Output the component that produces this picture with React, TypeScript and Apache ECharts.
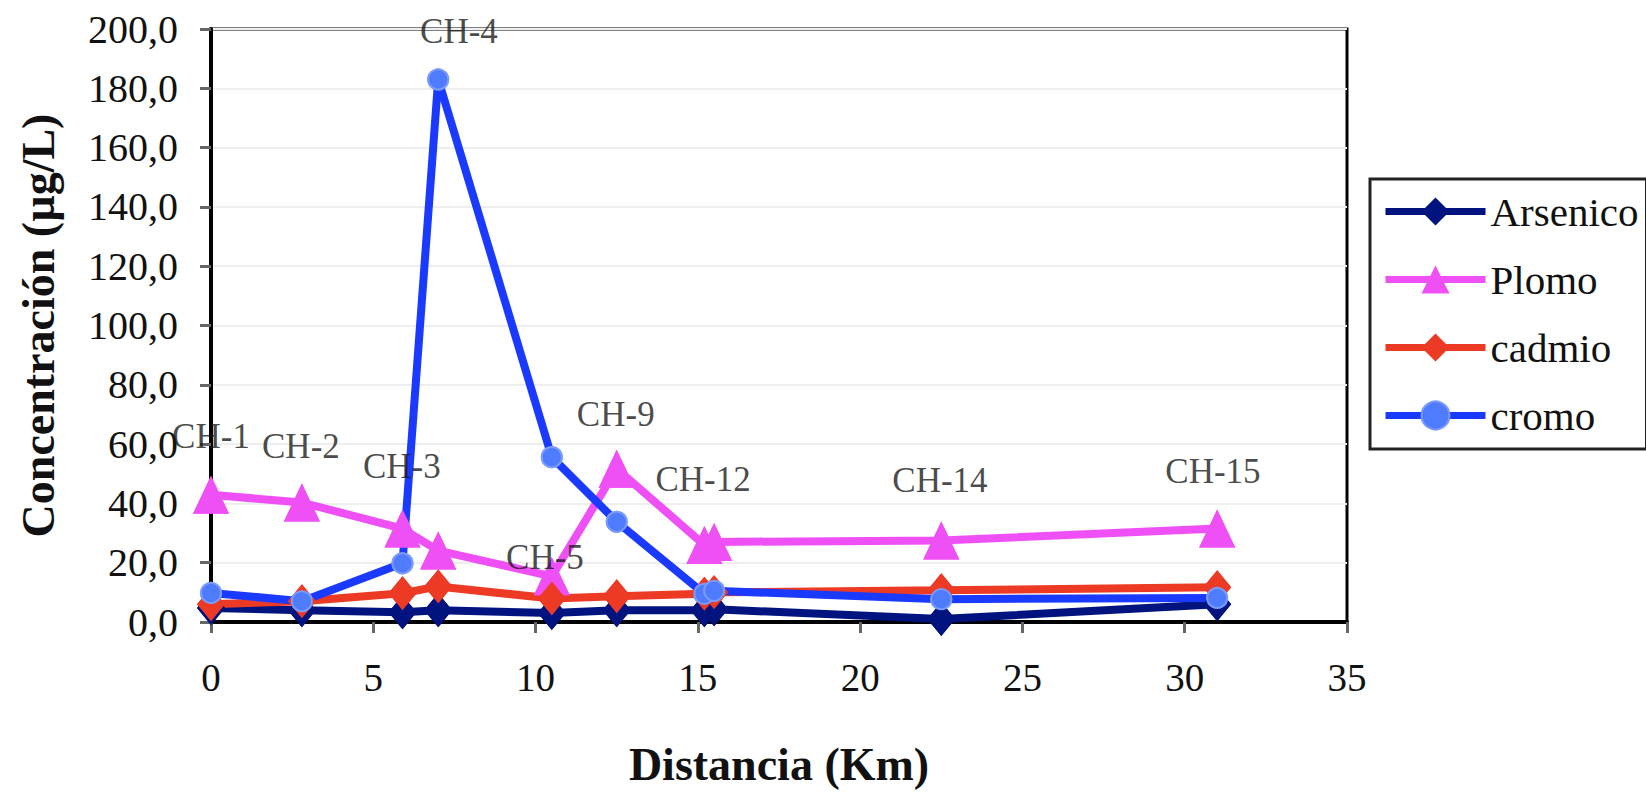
import React, { useEffect, useRef } from "react";
import * as echarts from "echarts";

// Distance (km) of each sampling point
const distances = [0, 2.8, 5.9, 7.0, 10.5, 12.5, 15.2, 15.5, 22.5, 31.0];
// Concentrations (µg/L)
const arsenico = [4.7, 4.0, 3.3, 4.0, 3.0, 4.0, 4.0, 4.3, 1.0, 6.0];
const plomo = [42.9, 40.3, 31.5, 24.1, 15.4, 51.7, 26.0, 27.0, 27.5, 31.5];
const cadmio = [6.0, 7.0, 9.7, 12.0, 7.9, 8.7, 9.5, 10.0, 10.7, 11.7];
const cromo = [9.8, 7.0, 19.8, 183.0, 55.6, 33.8, 9.5, 10.5, 7.7, 8.1];

// Station annotations (position in data units)
const stationNames = ["CH-1", "CH-2", "CH-3", "CH-4", "CH-5", "CH-9", "CH-12", "CH-14", "CH-15"];
const stationLabelX = [0, 2.77, 5.88, 7.64, 10.29, 12.47, 15.16, 22.46, 30.87];
const stationLabelY = [62.6, 59.3, 52.6, 199.3, 21.8, 70.0, 47.9, 47.6, 50.9];

const seriesNames = ["Arsenico", "Plomo", "cadmio", "cromo"];
const seriesValues = [arsenico, plomo, cadmio, cromo];
const seriesColors = ["#00137f", "#ef50f6", "#ec3a24", "#1a3aff"];
const seriesSymbols = ["diamond", "triangle", "diamond", "circle"];
const seriesSymbolSizes: any[] = [[28, 34], [36, 38], [28, 34], 20];
const symbolFill = ["#00137f", "#ef50f6", "#ec3a24", "#4f7bff"];
const symbolBorder = ["#00137f", "#ef50f6", "#ec3a24", "#7a9cff"];

const FONT = "'Liberation Serif', 'Times New Roman', serif";

export default function App() {
  const ref = useRef<HTMLDivElement>(null);
  useEffect(() => {
    if (!ref.current) return;
    const chart = echarts.init(ref.current, undefined, { renderer: "svg" });

    const lineSeries = seriesNames.map((name, i) => ({
      name,
      type: "line",
      data: distances.map((d, j) => [d, seriesValues[i][j]]),
      symbol: seriesSymbols[i],
      symbolSize: seriesSymbolSizes[i],
      showSymbol: true,
      lineStyle: { color: seriesColors[i], width: 8 },
      itemStyle: { color: symbolFill[i], borderColor: symbolBorder[i], borderWidth: i === 3 ? 2 : 0 },
      z: 2,
    }));

    const markerSeries = seriesNames.map((name, i) => ({
      name: name + "_m",
      type: "scatter",
      data: distances.map((d, j) => [d, seriesValues[i][j]]),
      symbol: seriesSymbols[i],
      symbolSize: seriesSymbolSizes[i],
      itemStyle: { color: symbolFill[i], borderColor: symbolBorder[i], borderWidth: i === 3 ? 2 : 0, opacity: 1 },
      z: 3,
      silent: true,
    }));

    const labelSeries = {
      name: "stations",
      type: "scatter",
      symbolSize: 0,
      z: 5,
      silent: true,
      data: stationNames.map((n, i) => ({ name: n, value: [stationLabelX[i], stationLabelY[i]] })),
      label: {
        show: true,
        position: "inside",
        formatter: "{b}",
        fontFamily: FONT,
        fontSize: 35,
        color: "#1a1a1a",
      },
    };

    chart.setOption({
      animation: false,
      backgroundColor: "#ffffff",
      grid: {
        left: 211,
        top: 29,
        right: 299,
        bottom: 166,
        containLabel: false,
        show: true,
        borderColor: "#000",
        borderWidth: 3,
        backgroundColor: "transparent",
      },
      legend: {
        data: seriesNames,
        orient: "vertical",
        left: 1370,
        top: 179,
        itemWidth: 100,
        itemHeight: 35,
        itemGap: 27,
        padding: [12, 8, 13, 12],
        borderColor: "#222",
        borderWidth: 3,
        lineStyle: { width: 7 },
        textStyle: { fontFamily: FONT, fontSize: 41, lineHeight: 41, color: "#111" },
      },
      xAxis: {
        type: "value",
        min: 0,
        max: 35,
        interval: 5,
        name: "Distancia (Km)",
        nameLocation: "middle",
        nameGap: 119,
        nameTextStyle: { fontFamily: FONT, fontSize: 46, fontWeight: "bold", color: "#111" },
        axisLine: { show: true, lineStyle: { color: "#000", width: 4 } },
        axisTick: { show: true, length: 11, lineStyle: { color: "#666", width: 3 } },
        axisLabel: { margin: 36, fontFamily: FONT, fontSize: 39, color: "#111" },
        splitLine: { show: false },
      },
      yAxis: {
        type: "value",
        min: 0,
        max: 200,
        interval: 20,
        name: "Concentración (µg/L)",
        nameLocation: "middle",
        nameRotate: 90,
        nameGap: 150,
        nameTextStyle: { fontFamily: FONT, fontSize: 46, fontWeight: "bold", color: "#111" },
        axisLine: { show: true, lineStyle: { color: "#000", width: 4 } },
        axisTick: { show: true, length: 11, lineStyle: { color: "#666", width: 3 } },
        axisLabel: {
          margin: 33,
          fontFamily: FONT,
          fontSize: 40,
          color: "#111",
          formatter: (v: number) => v.toFixed(1).replace(".", ","),
        },
        splitLine: { show: true, lineStyle: { color: "#eeeeee", width: 2 } },
      },
      series: [...lineSeries, ...markerSeries, labelSeries],
    });

    return () => chart.dispose();
  }, []);

  return (
    <div
      ref={ref}
      style={{ position: "fixed", left: 0, top: 0, width: 1646, height: 792, background: "#fff" }}
    />
  );
}
